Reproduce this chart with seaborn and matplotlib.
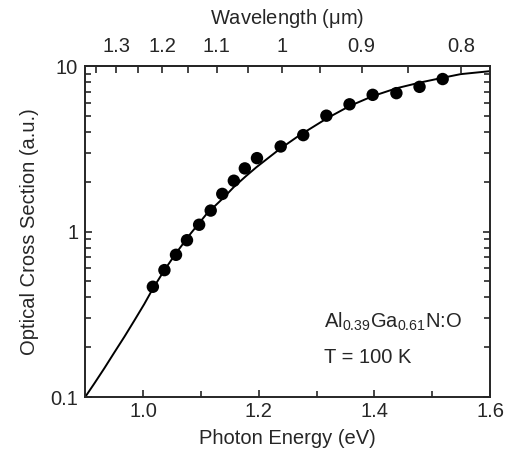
import numpy as np
import pandas as pd
import seaborn as sns
import matplotlib
matplotlib.use("Agg")
import matplotlib.pyplot as plt
from matplotlib.ticker import FixedLocator, NullFormatter

# measured points (photon energy in eV, cross section in a.u.)
energy = [1.017, 1.037, 1.057, 1.076, 1.097, 1.117, 1.137, 1.157, 1.176,
          1.197, 1.238, 1.277, 1.317, 1.357, 1.397, 1.438, 1.478, 1.518]
sigma = [0.464, 0.585, 0.724, 0.887, 1.10, 1.34, 1.69, 2.03, 2.41,
         2.78, 3.27, 3.83, 5.02, 5.88, 6.71, 6.87, 7.50, 8.36]

# fitted curve
fit_energy = [0.900, 0.916, 0.933, 0.950, 0.968, 0.985, 1.002, 1.017, 1.037,
              1.057, 1.082, 1.110, 1.139, 1.157, 1.177, 1.196, 1.236, 1.269,
              1.318, 1.357, 1.397, 1.438, 1.478, 1.518, 1.549, 1.600]
fit_sigma = [0.100, 0.121, 0.149, 0.185, 0.232, 0.290, 0.364, 0.452, 0.585,
             0.740, 0.970, 1.28, 1.60, 1.86, 2.15, 2.45, 3.15, 3.79,
             4.84, 5.74, 6.59, 7.35, 7.95, 8.51, 8.95, 9.33]

# wavelength ticks for the top axis
wl_major = [1.3, 1.2, 1.1, 1.0, 0.9, 0.8]
wl_labels = ["1.3", "1.2", "1.1", "1", "0.9", "0.8"]
wl_minor = [1.35, 1.25, 1.15, 1.05, 0.95, 0.85]

pts = pd.DataFrame({"energy": energy, "sigma": sigma})
fit = pd.DataFrame({"energy": fit_energy, "sigma": fit_sigma})

sns.set_style("ticks")
plt.rcParams["font.family"] = ["Liberation Sans", "DejaVu Sans"]
plt.rcParams["mathtext.fontset"] = "custom"
plt.rcParams["mathtext.rm"] = "Liberation Sans"
plt.rcParams["mathtext.it"] = "Liberation Sans"

fs = 14.5

fig = plt.figure(figsize=(5.1, 4.66), dpi=100)
ax = fig.add_axes([0.167, 0.148, 0.794, 0.71])

sns.lineplot(data=fit, x="energy", y="sigma", color="black", linewidth=1.4, ax=ax)
sns.scatterplot(data=pts, x="energy", y="sigma", color="black", s=80,
                edgecolor="none", ax=ax, zorder=3)

ax.set_yscale("log")
ax.set_xlim(0.9, 1.6)
ax.set_ylim(0.1, 10)
ax.set_xticks([1.0, 1.2, 1.4, 1.6])
ax.set_xticklabels(["1.0", "1.2", "1.4", "1.6"])
ax.set_xticks([1.1, 1.3, 1.5], minor=True)
ax.set_yticks([0.1, 1, 10])
ax.set_yticklabels(["0.1", "1", "10"])
ax.yaxis.set_minor_formatter(NullFormatter())

ax.set_xlabel("Photon Energy (eV)", fontsize=fs, labelpad=6)
ax.set_ylabel("Optical Cross Section (a.u.)", fontsize=fs, labelpad=8)

for s in ax.spines.values():
    s.set_linewidth(1.4)
    s.set_visible(True)
ax.tick_params(which="both", direction="in", width=1.2, labelsize=fs,
               right=True, top=False)
ax.tick_params(which="major", length=5)
ax.tick_params(which="minor", length=4)
ax.tick_params(axis="y", pad=5)

# top axis in wavelength (um), lambda = 1.24 / E
top = ax.secondary_xaxis("top", functions=(lambda x: 1.24 / x, lambda x: 1.24 / x))
top.xaxis.set_major_locator(FixedLocator(wl_major))
top.set_xticklabels(wl_labels)
top.xaxis.set_minor_locator(FixedLocator(wl_minor))
top.tick_params(which="both", direction="in", width=1.2, labelsize=fs, pad=7)
top.tick_params(which="major", length=5)
top.tick_params(which="minor", length=5)
top.spines["top"].set_linewidth(1.4)
top.set_xlabel("Wavelength ($\\mu$m)", fontsize=fs, labelpad=10)

ax.text(1.312, 0.283, "Al$_{0.39}$Ga$_{0.61}$N:O", fontsize=fs, va="center")
ax.text(1.312, 0.174, "T = 100 K", fontsize=fs, va="center")

fig.savefig("out.png", dpi=100)
